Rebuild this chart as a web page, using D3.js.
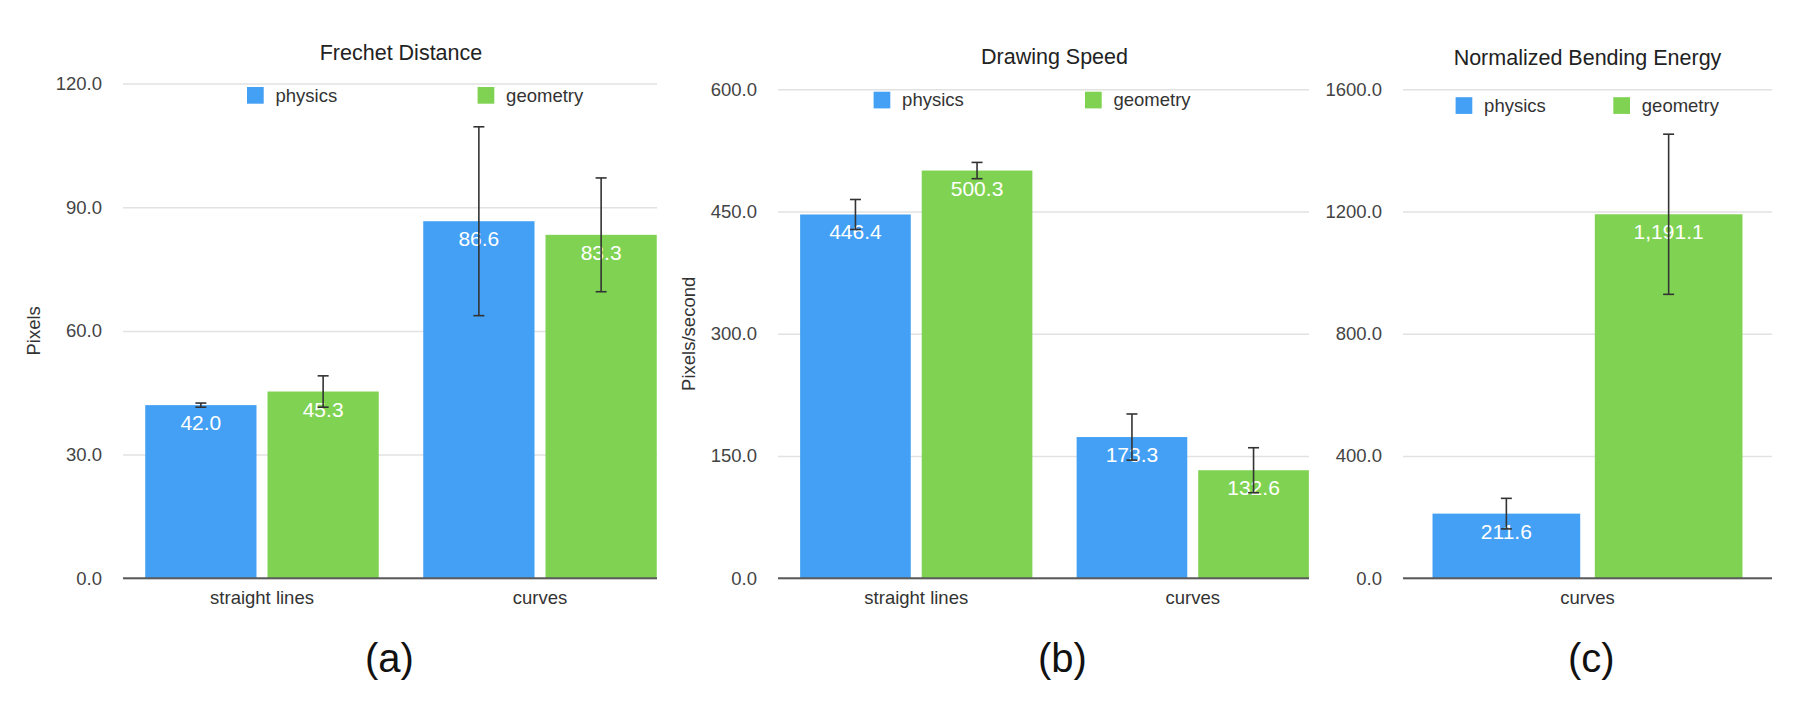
<!DOCTYPE html>
<html>
<head>
<meta charset="utf-8">
<script src="https://cdn.jsdelivr.net/npm/d3@7"></script>
<style>
    body { margin: 0; background: #fff; }
    svg text { font-family: "Liberation Sans", Arial, Helvetica, sans-serif; }
</style>
</head>
<body>
<div id="chart"></div>
<script>
// ---- data ----
const seriesNames = ["physics", "geometry"];
const seriesColors = ["#43a0f5", "#80d352"];

const frechetCategories = ["straight lines", "curves"];
const frechetPhysics = [42.0, 86.6];
const frechetGeometry = [45.3, 83.3];
const frechetPhysicsErr = [0.5, 22.9];
const frechetGeometryErr = [3.8, 13.8];
const frechetTicks = [0, 30, 60, 90, 120];

const speedCategories = ["straight lines", "curves"];
const speedPhysics = [446.4, 173.3];
const speedGeometry = [500.3, 132.6];
const speedPhysicsErr = [18.4, 28.3];
const speedGeometryErr = [10.0, 27.6];
const speedTicks = [0, 150, 300, 450, 600];

const bendingCategories = ["curves"];
const bendingPhysics = [211.6];
const bendingGeometry = [1191.1];
const bendingPhysicsErr = [50.0];
const bendingGeometryErr = [262.0];
const bendingTicks = [0, 400, 800, 1200, 1600];


class BarPanel {

    constructor(_svg, data, layout) {
        this.svg = _svg;
        this.data = data;
        this.layout = layout;

        this.initVis();
    }

    initVis() {
        let vis = this;
        let L = vis.layout;

        vis.g = vis.svg.append("g");
        vis.gridRight = L.right - L.crop;

        vis.y = d3.scaleLinear()
            .domain([0, d3.max(vis.data.ticks)])
            .range([L.bottom, L.top]);

        vis.x0 = d3.scaleBand()
            .domain(vis.data.categories)
            .range([L.left, L.right])
            .paddingInner(0.16)
            .paddingOuter(0.08);

        vis.x1 = d3.scaleBand()
            .domain(seriesNames)
            .range([0, vis.x0.bandwidth()])
            .paddingInner(0.09);

        // y axis + gridlines
        let yAxis = d3.axisLeft(vis.y)
            .tickValues(vis.data.ticks)
            .tickFormat(d3.format(".1f"))
            .tickSize(-(vis.gridRight - L.left))
            .tickPadding(21);

        let ya = vis.g.append("g")
            .attr("transform", `translate(${L.left},0)`)
            .call(yAxis);
        ya.select(".domain").remove();
        ya.selectAll(".tick line")
            .attr("stroke", "#e2e2e2")
            .attr("stroke-width", 1.5);
        ya.selectAll(".tick text")
            .attr("fill", "#444")
            .style("font-size", "18.5px");

        // rows for bars
        vis.rows = [];
        vis.data.categories.forEach((c, i) => {
            seriesNames.forEach((s, j) => {
                vis.rows.push({
                    cat: c,
                    series: s,
                    value: vis.data.values[j][i],
                    err: vis.data.errors[j][i],
                    color: seriesColors[j]
                });
            });
        });

        vis.g.selectAll(".bar")
            .data(vis.rows)
            .enter()
            .append("rect")
            .attr("class", "bar")
            .attr("x", d => vis.x0(d.cat) + vis.x1(d.series))
            .attr("y", d => vis.y(d.value))
            .attr("width", vis.x1.bandwidth())
            .attr("height", d => vis.y(0) - vis.y(d.value))
            .attr("fill", d => d.color);

        // baseline
        vis.g.append("line")
            .attr("x1", L.left)
            .attr("x2", vis.gridRight)
            .attr("y1", vis.y(0))
            .attr("y2", vis.y(0))
            .attr("stroke", "#5a5a5a")
            .attr("stroke-width", 2);

        // value labels
        vis.g.selectAll(".val")
            .data(vis.rows)
            .enter()
            .append("text")
            .attr("class", "val")
            .attr("x", d => vis.x0(d.cat) + vis.x1(d.series) + vis.x1.bandwidth() / 2)
            .attr("y", d => vis.y(d.value) + 25)
            .attr("text-anchor", "middle")
            .attr("fill", "#fff")
            .style("font-size", "21px")
            .text(d => d3.format(",.1f")(d.value));

        // error bars
        let capW = 11;
        let eb = vis.g.selectAll(".err")
            .data(vis.rows)
            .enter()
            .append("g")
            .attr("class", "err")
            .attr("stroke", "#333")
            .attr("stroke-width", 1.6);
        let cx = d => vis.x0(d.cat) + vis.x1(d.series) + vis.x1.bandwidth() / 2;
        eb.append("line")
            .attr("x1", cx).attr("x2", cx)
            .attr("y1", d => vis.y(d.value - d.err))
            .attr("y2", d => vis.y(d.value + d.err));
        eb.append("line")
            .attr("x1", d => cx(d) - capW / 2).attr("x2", d => cx(d) + capW / 2)
            .attr("y1", d => vis.y(d.value + d.err))
            .attr("y2", d => vis.y(d.value + d.err));
        eb.append("line")
            .attr("x1", d => cx(d) - capW / 2).attr("x2", d => cx(d) + capW / 2)
            .attr("y1", d => vis.y(d.value - d.err))
            .attr("y2", d => vis.y(d.value - d.err));

        // category axis
        let xAxis = d3.axisBottom(vis.x0).tickSize(0).tickPadding(13);
        let xa = vis.g.append("g")
            .attr("transform", `translate(0,${vis.y(0)})`)
            .call(xAxis);
        xa.select(".domain").remove();
        xa.selectAll(".tick text")
            .attr("fill", "#333")
            .style("font-size", "18.5px");

        // title
        vis.g.append("text")
            .attr("x", (L.left + L.right) / 2)
            .attr("y", L.titleY)
            .attr("dy", "0.35em")
            .attr("text-anchor", "middle")
            .attr("fill", "#222")
            .style("font-size", "21.5px")
            .text(vis.data.title);

        // legend
        let lg = vis.g.selectAll(".legend")
            .data(seriesNames)
            .enter()
            .append("g")
            .attr("class", "legend")
            .attr("transform", (d, i) => `translate(${L.legendX[i]},${L.legendY})`);
        lg.append("rect")
            .attr("x", 0).attr("y", -8.3)
            .attr("width", 16.7).attr("height", 16.7)
            .attr("fill", (d, i) => seriesColors[i]);
        lg.append("text")
            .attr("x", 28.5)
            .attr("dy", "0.35em")
            .attr("fill", "#333")
            .style("font-size", "18.5px")
            .text(d => d);

        // y title
        if (vis.data.yTitle) {
            vis.g.append("text")
                .attr("transform", `translate(${L.left - 89},${(L.top + L.bottom) / 2}) rotate(-90)`)
                .attr("dy", "0.35em")
                .attr("text-anchor", "middle")
                .attr("fill", "#333")
                .style("font-size", "18.5px")
                .text(vis.data.yTitle);
        }

        // sub figure caption
        vis.g.append("text")
            .attr("x", L.captionX)
            .attr("y", 672)
            .attr("text-anchor", "middle")
            .attr("fill", "#111")
            .style("font-size", "40px")
            .text(L.caption);
    }
}


let svg = d3.select("#chart").append("svg")
    .attr("width", 1800)
    .attr("height", 722);

svg.append("rect").attr("width", 1800).attr("height", 722).attr("fill", "#fff");

new BarPanel(svg, {
    title: "Frechet Distance",
    yTitle: "Pixels",
    categories: frechetCategories,
    values: [frechetPhysics, frechetGeometry],
    errors: [frechetPhysicsErr, frechetGeometryErr],
    ticks: frechetTicks
}, {left: 123, right: 679, crop: 22, top: 83.5, bottom: 578.3,
    legendX: [247, 477.6], legendY: 95.3, titleY: 52, captionX: 389.4, caption: "(a)"});

new BarPanel(svg, {
    title: "Drawing Speed",
    yTitle: "Pixels/second",
    categories: speedCategories,
    values: [speedPhysics, speedGeometry],
    errors: [speedPhysicsErr, speedGeometryErr],
    ticks: speedTicks
}, {left: 778, right: 1331, crop: 22, top: 89.3, bottom: 578.3,
    legendX: [873.6, 1085], legendY: 100, titleY: 56, captionX: 1062.5, caption: "(b)"});

new BarPanel(svg, {
    title: "Normalized Bending Energy",
    yTitle: null,
    categories: bendingCategories,
    values: [bendingPhysics, bendingGeometry],
    errors: [bendingPhysicsErr, bendingGeometryErr],
    ticks: bendingTicks
}, {left: 1403, right: 1772, crop: 0, top: 89.3, bottom: 578.3,
    legendX: [1455.6, 1613.3], legendY: 105.5, titleY: 57.3, captionX: 1591.3, caption: "(c)"});

</script>
</body>
</html>
